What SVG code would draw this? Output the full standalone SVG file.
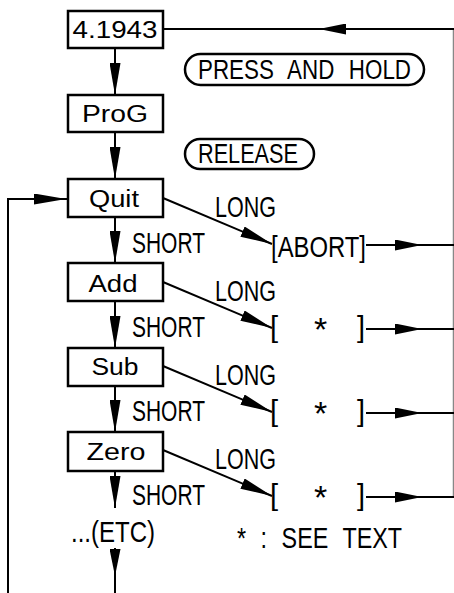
<svg xmlns="http://www.w3.org/2000/svg" width="454" height="593" viewBox="0 0 454 593">
<style>
.box{fill:#fff;stroke:#000;stroke-width:2.5}
.pill{fill:none;stroke:#000;stroke-width:2.5}
.ln{fill:none;stroke:#000;stroke-width:2}
.edge{fill:none;stroke:#888;stroke-width:1.5}
.lbl{font-family:"Liberation Sans",Arial,sans-serif;font-size:23px;fill:#000;text-anchor:middle}
.iso{font-family:"Liberation Sans",Arial,sans-serif;font-size:29px;fill:#000}
.pt{font-family:"Liberation Sans",Arial,sans-serif;font-size:27px;fill:#000}
.wide{word-spacing:10px}
</style>
<defs>
<marker id="arr" viewBox="0 0 32 11" refX="32" refY="5.5" markerWidth="32" markerHeight="11" markerUnits="userSpaceOnUse" orient="auto">
<path d="M0,0 L32,5.5 L0,11 Z" fill="#000"/>
</marker>
<marker id="arrs" viewBox="0 0 27 11" refX="27" refY="5.5" markerWidth="27" markerHeight="11" markerUnits="userSpaceOnUse" orient="auto">
<path d="M0,0 L27,5.5 L0,11 Z" fill="#000"/>
</marker>
</defs>
<g id="connectors">
<path class="ln" d="M115,48 L115,95" marker-end="url(#arr)"/>
<path class="ln" d="M115,132 L115,179" marker-end="url(#arr)"/>
<path class="ln" d="M115,217 L115,263" marker-end="url(#arr)"/>
<path class="ln" d="M115,301 L115,348" marker-end="url(#arr)"/>
<path class="ln" d="M115,386 L115,432" marker-end="url(#arr)"/>
<path class="ln" d="M115,471 L115,508" marker-end="url(#arr)"/>
<path class="ln" d="M115,548 L115,576" marker-end="url(#arrs)"/>
<path class="ln" d="M115,576 L115,593"/>
<path class="ln" d="M8,593 L8,199 L66,199" marker-end="url(#arr)"/>
<path class="ln" d="M66,199 L68,199"/>
<path class="edge" d="M453.5,497 L453.5,29"/>
<path class="ln" d="M454,29 L319,29" marker-end="url(#arrs)"/>
<path class="ln" d="M319,29 L163,29"/>
<path class="ln" d="M163,198 L272,244" marker-end="url(#arr)"/>
<path class="ln" d="M163,282 L272,328" marker-end="url(#arr)"/>
<path class="ln" d="M163,366 L272,412" marker-end="url(#arr)"/>
<path class="ln" d="M163,450 L272,496" marker-end="url(#arr)"/>
<path class="ln" d="M366,245 L422,245" marker-end="url(#arrs)"/>
<path class="ln" d="M422,245 L454,245"/>
<path class="ln" d="M366,329 L422,329" marker-end="url(#arrs)"/>
<path class="ln" d="M422,329 L454,329"/>
<path class="ln" d="M366,413 L422,413" marker-end="url(#arrs)"/>
<path class="ln" d="M422,413 L454,413"/>
<path class="ln" d="M366,497 L422,497" marker-end="url(#arrs)"/>
<path class="ln" d="M422,497 L454,497"/>
</g>
<g id="n-start">
<rect class="box" x="68" y="11" width="95" height="37"/>
<text class="lbl" x="115" y="38" textLength="85" lengthAdjust="spacingAndGlyphs">4.1943</text>
</g>
<g id="n-progr">
<rect class="box" x="68" y="95" width="95" height="37"/>
<text class="lbl" x="115" y="122" textLength="66" lengthAdjust="spacingAndGlyphs">ProG</text>
</g>
<g id="n-quit">
<rect class="box" x="68" y="179" width="95" height="38"/>
<text class="lbl" x="114" y="207" textLength="50" lengthAdjust="spacingAndGlyphs">Quit</text>
</g>
<g id="n-add">
<rect class="box" x="68" y="263" width="95" height="38"/>
<text class="lbl" x="113" y="292" textLength="49" lengthAdjust="spacingAndGlyphs">Add</text>
</g>
<g id="n-sub">
<rect class="box" x="68" y="348" width="95" height="38"/>
<text class="lbl" x="115" y="375" textLength="47" lengthAdjust="spacingAndGlyphs">Sub</text>
</g>
<g id="n-zero">
<rect class="box" x="68" y="432" width="95" height="39"/>
<text class="lbl" x="116" y="460" textLength="59" lengthAdjust="spacingAndGlyphs">Zero</text>
</g>
<g id="n-press">
<rect class="pill" x="185" y="54" width="239" height="31" rx="15.5"/>
<text class="pt wide" x="198" y="79" textLength="213" lengthAdjust="spacingAndGlyphs">PRESS AND HOLD</text>
</g>
<g id="n-release">
<rect class="pill" x="185" y="139" width="129" height="30" rx="15"/>
<text class="pt" x="198" y="163" textLength="100" lengthAdjust="spacingAndGlyphs">RELEASE</text>
</g>
<g id="labels">
<text class="iso" x="215" y="217" textLength="61" lengthAdjust="spacingAndGlyphs">LONG</text>
<text class="iso" x="215" y="301" textLength="61" lengthAdjust="spacingAndGlyphs">LONG</text>
<text class="iso" x="215" y="385" textLength="61" lengthAdjust="spacingAndGlyphs">LONG</text>
<text class="iso" x="215" y="469" textLength="61" lengthAdjust="spacingAndGlyphs">LONG</text>
<text class="iso" x="132" y="253" textLength="73" lengthAdjust="spacingAndGlyphs">SHORT</text>
<text class="iso" x="132" y="337" textLength="73" lengthAdjust="spacingAndGlyphs">SHORT</text>
<text class="iso" x="132" y="421" textLength="73" lengthAdjust="spacingAndGlyphs">SHORT</text>
<text class="iso" x="132" y="505" textLength="73" lengthAdjust="spacingAndGlyphs">SHORT</text>
</g>
<g id="n-abort">
<text class="iso" x="271" y="257" textLength="95" lengthAdjust="spacingAndGlyphs">[ABORT]</text>
</g>
<g id="n-star1">
<text class="iso" y="337"><tspan x="270">[</tspan><tspan x="314" y="341" style="font-size:34px">*</tspan><tspan x="357" y="337">]</tspan></text>
</g>
<g id="n-star2">
<text class="iso" y="421"><tspan x="270">[</tspan><tspan x="314" y="425" style="font-size:34px">*</tspan><tspan x="357" y="421">]</tspan></text>
</g>
<g id="n-star3">
<text class="iso" y="505"><tspan x="270">[</tspan><tspan x="314" y="509" style="font-size:34px">*</tspan><tspan x="357" y="505">]</tspan></text>
</g>
<g id="n-etc">
<text class="iso" x="71" y="542" textLength="84" lengthAdjust="spacingAndGlyphs">...(ETC)</text>
</g>
<g id="note">
<text class="iso wide" x="237" y="548" textLength="165" lengthAdjust="spacingAndGlyphs">* : SEE TEXT</text>
</g>
</svg>
